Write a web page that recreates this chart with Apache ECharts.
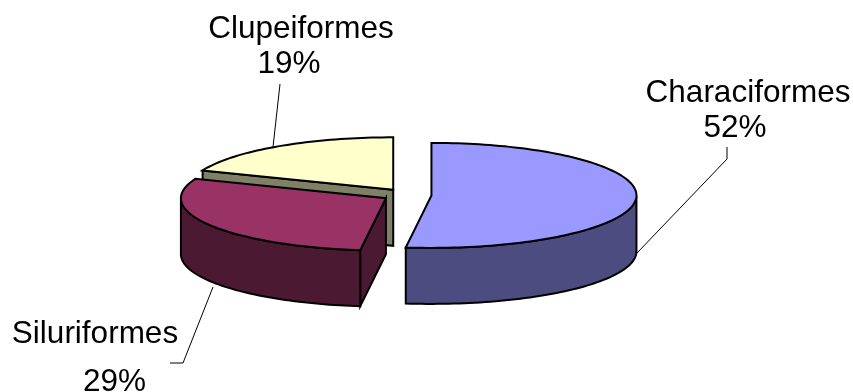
<!DOCTYPE html>
<html>
<head>
<meta charset="utf-8">
<style>html,body{margin:0;padding:0;background:#fff}#chart{width:853px;height:392px}</style>
<script src="https://cdn.jsdelivr.net/npm/echarts@6/dist/echarts.min.js"></script>
</head>
<body>
<div id="chart"></div>
<script>
// Order composition, in percent, clockwise from twelve o'clock
const orders = ['Characiformes', 'Siluriformes', 'Clupeiformes'];
const shares = [52, 29, 19];

// Pie geometry in pixels
const pie = { cx: 407, cy: 195, rx: 205, ry: 52.5, depth: 56, explode: 24.5 };
const topColors = ['#9999FF', '#993366', '#FFFFCC'];
const sideColors = ['#4C4C80', '#4C1933', '#808066'];

// Label text anchors and leader-line paths, per slice
const fontSize = 31.5;
const labelLayout = [
  { name: [748, 93], value: [735, 128], leader: [[727, 147], [727, 159], [637, 253]] },
  { name: [95, 334], value: [114.5, 382], leader: [[213, 287], [183, 363], [170, 363]] },
  { name: [301, 29], value: [289, 64], leader: [[280, 84], [273, 147]] }
];

const rad = d => d * Math.PI / 180;
const total = shares.reduce((a, b) => a + b, 0);

function renderSlice(params, api) {
  const i = params.dataIndex;
  const before = shares.slice(0, i).reduce((a, b) => a + b, 0);
  const start = before / total * 360;
  const end = start + api.value(0) / total * 360;
  const mid = rad((start + end) / 2);

  // Each slice is pushed out along its own bisector, in the tilted plane
  const cx = pie.cx + pie.explode * Math.sin(mid);
  const cy = pie.cy - pie.explode * (pie.ry / pie.rx) * Math.cos(mid);
  const rim = (deg, dy = 0) => [
    cx + pie.rx * Math.sin(rad(deg)),
    cy - pie.ry * Math.cos(rad(deg)) + dy
  ];
  const arc = (a, b, dy = 0) => {
    const pts = [];
    const n = Math.max(1, Math.ceil((b - a) / 1.5));
    for (let k = 0; k <= n; k++) pts.push(rim(a + (b - a) * k / n, dy));
    return pts;
  };
  const apex = [cx, cy];
  const apexLow = [cx, cy + pie.depth];
  const z = 2 * (2 - i);
  const line = { stroke: '#000', lineWidth: 2, lineJoin: 'miter' };
  const poly = (points, fill, zz) => ({
    type: 'polygon', z2: zz, shape: { points },
    style: { fill, ...line }
  });
  const children = [];

  // Radial cut faces that turn toward the viewer
  if (Math.sin(rad(start)) < -1e-6) {
    children.push(poly([apex, rim(start), rim(start, pie.depth), apexLow], sideColors[i], z));
  }
  if (Math.sin(rad(end)) > 1e-6) {
    children.push(poly([apex, rim(end), rim(end, pie.depth), apexLow], sideColors[i], z));
  }

  // Outer wall: only the front half of the rim shows
  const a = Math.max(start, 90);
  const b = Math.min(end, 270);
  if (b > a) {
    children.push(poly(arc(a, b).concat(arc(a, b, pie.depth).reverse()), sideColors[i], z));
  }

  // Top face
  children.push(poly([apex].concat(arc(start, end)), topColors[i], z + 1));

  // Leader line and label text
  const lay = labelLayout[i];
  children.push({
    type: 'polyline', z2: 20, shape: { points: lay.leader },
    style: { fill: null, stroke: '#000', lineWidth: 1 }
  });
  const text = (pos, str) => ({
    type: 'text', z2: 21, x: pos[0], y: pos[1],
    style: {
      text: str, fill: '#000', align: 'center', verticalAlign: 'middle',
      font: fontSize + 'px "Liberation Sans", Arial, sans-serif'
    }
  });
  children.push(text(lay.name, orders[i]));
  children.push(text(lay.value, api.value(0) + '%'));

  return { type: 'group', children };
}

const chart = echarts.init(document.getElementById('chart'), null, { renderer: 'canvas' });
chart.setOption({
  animation: false,
  backgroundColor: '#fff',
  series: [{
    type: 'custom',
    coordinateSystem: 'none',
    renderItem: renderSlice,
    data: orders.map((name, i) => ({ name, value: [shares[i]] }))
  }]
});
</script>
</body>
</html>
